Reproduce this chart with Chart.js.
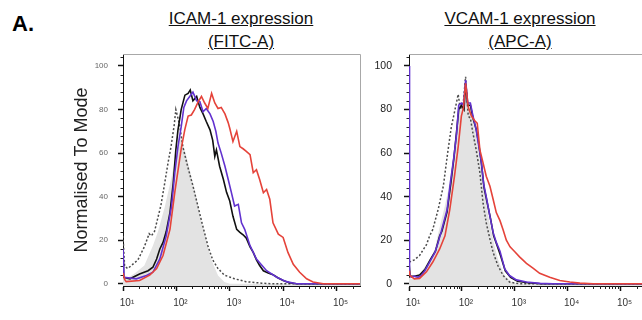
<!DOCTYPE html>
<html>
<head>
<meta charset="utf-8">
<script src="https://cdn.jsdelivr.net/npm/chart.js@4"></script>
<style>
    body { margin: 0; width: 642px; height: 320px; overflow: hidden; background: #fff; position: relative; font-family: "Liberation Sans", Arial, sans-serif; }
    canvas { position: absolute; top: 0; }
    #c1 { left: 0; }
    #c2 { left: 370px; }
    .head { position: absolute; top: 7px; width: 200px; text-align: center; font-size: 17px; line-height: 23px; color: #111; text-decoration: underline; }
    #tag { position: absolute; left: 12px; top: 11px; font-size: 22px; line-height: 26px; font-weight: bold; color: #000; }
</style>
</head>
<body>
<div id="tag">A.</div>
<div class="head" style="left:141px">ICAM-1 expression<br>(FITC-A)</div>
<div class="head" style="left:420px">VCAM-1 expression<br>(APC-A)</div>
<canvas id="c1" width="370" height="320"></canvas>
<canvas id="c2" width="280" height="320"></canvas>
<script>
// ===== DATA (x = log10 fluorescence, y = % of mode) =====
const xTicks = [1, 2, 3, 4, 5];
const xTickLabels = ["10\u00B9", "10\u00B2", "10\u00B3", "10\u2074", "10\u2075"];
const yTicks = [0, 20, 40, 60, 80, 100];

// ICAM-1 panel
const icamUnstained = [[1.0,4],[1.06,2.3],[1.21,4.6],[1.4,8.4],[1.56,17.5],[1.65,23.6],[1.78,35],[1.9,48],[1.99,58.5],[2.04,64],[2.09,67.5],[2.15,62],[2.21,56.5],[2.28,49.4],[2.37,40],[2.46,29.6],[2.56,20.5],[2.65,11.4],[2.78,3.8],[2.9,0.8],[3.0,0],[5.44,0]];
const icamIsotype = [[1.0,22],[1.03,8],[1.09,7],[1.28,11],[1.4,17],[1.49,23],[1.53,22],[1.59,24],[1.65,30],[1.71,36],[1.78,46],[1.84,55],[1.9,63],[1.96,73],[1.99,80],[2.03,76],[2.06,73],[2.12,63],[2.21,54],[2.31,45],[2.4,36],[2.49,27],[2.59,17.5],[2.68,11],[2.78,7],[2.9,4],[3.09,2.3],[3.3,1],[3.6,0.3],[3.8,0],[5.44,0]];
const icamBlack = [[1.0,10],[1.01,3],[1.13,2.3],[1.31,4.5],[1.47,6],[1.56,7.6],[1.63,11.4],[1.69,16],[1.75,19],[1.81,24],[1.88,32.7],[1.94,46],[1.99,61.5],[2.03,70.7],[2.09,80],[2.16,86.6],[2.22,87.4],[2.26,89],[2.31,84],[2.38,86],[2.44,81],[2.5,78],[2.56,74.5],[2.63,70.7],[2.68,66],[2.72,58.5],[2.75,61.5],[2.81,54],[2.88,48],[2.94,42],[3.0,38],[3.06,31],[3.13,25],[3.19,23.6],[3.25,22.5],[3.31,21],[3.38,17],[3.44,14.4],[3.5,11],[3.56,8.4],[3.63,6],[3.72,5],[3.81,4.2],[3.9,2.8],[4.0,1.5],[4.12,0.5],[4.25,0],[5.44,0]];
const icamPurple = [[1.0,16],[1.02,3],[1.25,2.3],[1.44,3.8],[1.56,5.3],[1.69,11.4],[1.81,22],[1.91,35.7],[1.97,51],[2.03,63],[2.09,72],[2.14,81],[2.19,84],[2.25,86],[2.31,88],[2.38,84],[2.44,83.6],[2.5,79],[2.56,80.5],[2.63,78],[2.69,74.5],[2.74,70],[2.78,64.6],[2.84,60],[2.91,54],[2.97,48],[3.03,42],[3.09,35.7],[3.16,36.5],[3.22,28],[3.28,25],[3.38,17.5],[3.5,11.4],[3.69,6],[3.88,3],[4.06,1],[4.25,0],[5.44,0]];
const icamRed = [[1.0,5],[1.03,2],[1.06,1],[1.31,1.5],[1.5,4],[1.63,7],[1.75,13],[1.88,25],[1.97,42],[2.03,52],[2.09,62],[2.16,71],[2.22,77],[2.28,77.5],[2.34,80],[2.41,83.6],[2.47,86],[2.53,83],[2.59,80.5],[2.66,87.4],[2.72,83],[2.78,80.5],[2.84,81],[2.91,78],[2.97,74],[3.0,71.4],[3.06,65.3],[3.13,70],[3.19,63],[3.25,62],[3.31,60.8],[3.38,59.3],[3.44,51],[3.5,52.4],[3.56,47.9],[3.63,41.8],[3.69,43.3],[3.75,38.8],[3.81,28],[3.91,22.8],[4.0,21.3],[4.09,14.4],[4.19,9],[4.31,5.3],[4.44,2.3],[4.56,0.8],[4.75,0],[5.44,0]];

// VCAM-1 panel
const vcamUnstained = [[1.0,3],[1.03,2.3],[1.1,2.5],[1.23,5.3],[1.39,11],[1.49,16],[1.55,23],[1.62,30],[1.68,36],[1.74,43],[1.8,52],[1.86,62],[1.91,72],[1.95,79],[1.99,82],[2.03,84],[2.07,95],[2.11,84],[2.17,80],[2.22,73],[2.27,68],[2.33,58],[2.38,50],[2.43,42],[2.49,32],[2.56,23.6],[2.62,17],[2.68,11.4],[2.75,7],[2.81,3.8],[2.94,0.8],[3.05,0],[5.48,0]];
const vcamIsotype = [[1.0,12],[1.01,10],[1.1,11],[1.2,13],[1.33,18],[1.39,22],[1.45,25],[1.55,34],[1.65,45],[1.73,60],[1.8,72],[1.87,80],[1.93,87],[1.97,80],[2.03,84],[2.07,95],[2.12,77],[2.16,76],[2.21,69],[2.27,61.5],[2.34,51],[2.4,37],[2.46,28],[2.53,20.5],[2.59,14.4],[2.68,8.4],[2.78,3.8],[2.9,0.8],[3.09,0],[5.48,0]];
const vcamBlack = [[1.0,10],[1.02,3.5],[1.1,3.5],[1.2,4],[1.3,6.5],[1.4,11],[1.5,15],[1.58,22],[1.62,24],[1.72,33],[1.79,46],[1.85,58],[1.9,70],[1.94,80],[1.99,82],[2.04,80],[2.07,92],[2.11,82],[2.16,82],[2.21,76],[2.27,71],[2.32,64],[2.37,55],[2.42,44],[2.48,37],[2.54,30],[2.6,22],[2.66,18],[2.73,13],[2.82,6],[2.92,3],[3.05,1.2],[3.25,0.5],[3.5,0],[5.48,0]];
const vcamPurple = [[1.0,100],[1.01,5],[1.04,3],[1.1,3.5],[1.17,3],[1.23,3.8],[1.3,6],[1.39,10],[1.49,14.4],[1.55,19],[1.61,24],[1.72,34],[1.78,46],[1.85,58.5],[1.9,69],[1.94,82],[1.99,83],[2.03,82],[2.07,93.5],[2.11,83],[2.16,83],[2.21,77],[2.27,70.7],[2.32,63],[2.37,55.5],[2.41,46],[2.46,40],[2.53,31],[2.59,23.6],[2.65,19],[2.72,15],[2.81,6.8],[2.9,3.8],[3.03,1.8],[3.22,0.8],[3.47,0.2],[3.72,0],[5.48,0]];
const vcamRed = [[1.0,6],[1.01,4],[1.1,2.3],[1.2,2.5],[1.33,5.5],[1.45,10],[1.58,16],[1.68,22],[1.77,34],[1.86,49.4],[1.93,63],[1.99,77],[2.03,81],[2.07,92],[2.12,81],[2.18,77],[2.24,75],[2.29,73.7],[2.34,61.5],[2.4,55.5],[2.46,49.4],[2.53,44.8],[2.59,38.8],[2.65,32.7],[2.72,29],[2.78,24.7],[2.84,20],[2.91,17],[3.0,14.7],[3.09,12.4],[3.22,9.4],[3.35,7.1],[3.47,4.8],[3.66,3],[3.85,1.5],[4.04,0.8],[4.23,0.3],[4.48,0],[5.48,0]];

// ===== HELPERS =====
Chart.defaults.font.family = "'Liberation Sans', Arial, sans-serif";

function minorX(max) {
    const out = [];
    for (let d = 1; d <= 5; d++) {
        for (let m = 2; m <= 9; m++) {
            const v = d + Math.log10(m);
            if (v < max) out.push(v);
        }
    }
    return out;
}

// grey frame on top/right + minor ticks on both axes
const framePlugin = {
    id: "frame",
    afterDraw(chart) {
        const { ctx, chartArea: a, scales } = chart;
        ctx.save();
        ctx.strokeStyle = "#a8a8a8";
        ctx.lineWidth = 1;
        ctx.beginPath();
        ctx.moveTo(a.left, a.top + 0.5);
        ctx.lineTo(a.right + 0.5, a.top + 0.5);
        ctx.lineTo(a.right + 0.5, a.bottom);
        ctx.stroke();

        ctx.strokeStyle = "#222";
        ctx.beginPath();
        minorX(scales.x.max).forEach(v => {
            const px = Math.round(scales.x.getPixelForValue(v)) + 0.5;
            ctx.moveTo(px, a.bottom);
            ctx.lineTo(px, a.bottom + 3);
        });
        for (let v = 4; v <= 104; v += 4) {
            if (v % 20 === 0) continue;
            const py = Math.round(scales.y.getPixelForValue(v)) + 0.5;
            ctx.moveTo(a.left, py);
            ctx.lineTo(a.left - 2.5, py);
        }
        ctx.stroke();
        ctx.restore();
    }
};

function lineSet(data, color, order, dash) {
    return {
        data: data,
        borderColor: color,
        borderWidth: dash ? 1.5 : 1.6,
        borderDash: dash || [],
        pointRadius: 0,
        tension: 0,
        fill: false,
        order: order
    };
}

// ===== CREATE CHART =====
function makePanel(id, series, opt) {
    return new Chart(document.getElementById(id), {
        type: "line",
        data: {
            datasets: [
                { data: series[0], borderWidth: 0, backgroundColor: "#e3e3e3", pointRadius: 0, fill: "start", order: 5 },
                lineSet(series[1], "#4a4a4a", 4, [2, 2]),
                lineSet(series[2], "#111111", 3),
                lineSet(series[3], "#6232cf", 2),
                lineSet(series[4], "#e5433a", 1)
            ]
        },
        options: {
            responsive: false,
            animation: false,
            layout: { padding: { top: 54, right: opt.padRight, left: 0, bottom: 0 } },
            plugins: { legend: { display: false }, tooltip: { enabled: false } },
            scales: {
                x: {
                    type: "linear",
                    min: 1,
                    max: opt.xMax,
                    afterBuildTicks: s => { s.ticks = xTicks.map(v => ({ value: v })); },
                    afterFit: s => { s.height = 34; },
                    grid: { drawOnChartArea: false, tickLength: 5, tickColor: "#111", tickWidth: 1.5 },
                    border: { color: "#111", width: 1 },
                    ticks: {
                        callback: v => xTickLabels[xTicks.indexOf(v)],
                        font: { size: 10 },
                        color: "#333",
                        padding: 6,
                        labelOffset: 4,
                        maxRotation: 0
                    }
                },
                y: {
                    min: -1,
                    max: 105.5,
                    afterBuildTicks: s => { s.ticks = yTicks.map(v => ({ value: v })); },
                    afterFit: s => { s.width = opt.yWidth; },
                    grid: { drawOnChartArea: false, tickLength: 5, tickColor: "#111", tickWidth: 1.5 },
                    border: { color: "#111", width: 1 },
                    ticks: { font: { size: opt.ySize }, color: opt.yColor, padding: opt.yPad },
                    title: {
                        display: opt.title,
                        text: "Normalised To Mode",
                        font: { size: 18 },
                        color: "#222",
                        padding: { top: 71, bottom: 0 }
                    }
                }
            }
        },
        plugins: [framePlugin]
    });
}

// ===== INITIAL LOAD =====
makePanel("c1", [icamUnstained, icamIsotype, icamBlack, icamPurple, icamRed],
    { xMax: 5.44, padRight: 10, yWidth: 123, yColor: "#666", ySize: 8, yPad: 10, title: true });
makePanel("c2", [vcamUnstained, vcamIsotype, vcamBlack, vcamPurple, vcamRed],
    { xMax: 5.48, padRight: 4, yWidth: 39, yColor: "#222", ySize: 10.5, yPad: 12, title: false });
</script>
</body>
</html>
